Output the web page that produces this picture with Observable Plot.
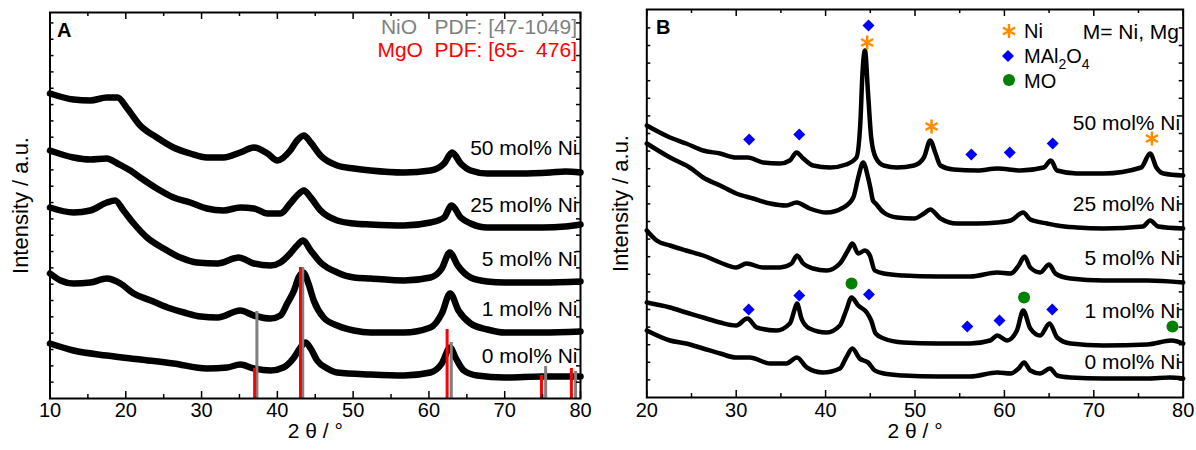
<!DOCTYPE html>
<html>
<head>
<meta charset="utf-8">
<script src="https://cdn.jsdelivr.net/npm/d3@7"></script>
<script src="https://cdn.jsdelivr.net/npm/@observablehq/plot@0.6"></script>
<style>
  body { margin: 0; background: white; }
  #wrap { position: relative; width: 1196px; height: 450px; font-family: "Liberation Sans", Arial, sans-serif; }
  #pa, #pb { position: absolute; top: 0; }
  #pa { left: 0; }
  #pb { left: 598px; }
  #ov { position: absolute; left: 0; top: 0; pointer-events: none; }
</style>
</head>
<body>
<div id="wrap">
  <div id="pa"></div>
  <div id="pb"></div>
  <svg id="ov" width="1196" height="450"></svg>
</div>
<script>
// ---------------- DATA (2θ in °, intensity in a.u.) ----------------
// Panel A
const seriesA = ["50 mol% Ni", "25 mol% Ni", "5 mol% Ni", "1 mol% Ni", "0 mol% Ni"];
const A50 = [[10,305],[13.1,299],[15.3,298],[17.5,301],[18.9,301],[20.2,290],[21.9,273],[24.1,261],[26.3,251],[28.5,245],[30.7,241],[32.9,241],[35.1,246],[36.9,251],[38.7,245],[40.0,238],[41.7,248],[42.6,258],[43.5,263],[44.4,256],[45.7,243],[47.9,233],[50.1,230],[52.3,228],[56.7,226],[60.2,228],[62.0,235],[63.06,246],[64.2,235],[65.5,228],[67.7,225],[72,225],[76,226],[78,227],[80,226]];
const A25 = [[10,248],[13.1,241],[15.3,239],[17.5,240],[18.9,235],[20.6,228],[21.9,221],[24.1,210],[26.3,201],[28.5,196],[30.7,190],[32.9,188],[35.1,191],[36.9,190],[38.7,185],[40.4,185],[41.7,195],[42.6,203],[43.5,208],[44.4,201],[45.7,188],[47.9,178],[50.1,175],[52.3,174],[56.7,173],[60.2,176],[62.0,181],[63.0,193],[64.2,181],[65.5,175],[67.7,171],[70,171],[75,171],[78,172],[80,174]];
const A5 = [[10,191],[13.1,186],[15.3,188],[17.5,196],[18.6,198],[19.7,188],[21.05,175],[22.8,161],[25.0,150],[27.2,141],[29.4,136],[32.1,135],[34.9,141],[36.9,135],[39.1,133],[40.4,136],[41.7,145],[42.6,153],[43.4,158],[44.4,148],[45.7,136],[47.9,126],[50.1,121],[52.3,120],[56.7,118],[60.2,121],[61.7,130],[62.75,146],[63.8,133],[65.5,121],[67.7,117],[70,116],[75,116],[80,117]];
const A1 = [[10,125],[11.4,118],[13.1,115],[15.3,116],[17.5,120],[19.3,115],[21.05,105],[23.3,98],[25.5,91],[27.7,86],[29.9,82],[32.1,81],[35.1,88],[36.9,83],[39.1,80],[40.4,83],[41.3,95],[42.2,108],[42.8,121],[43.4,126],[44.1,115],[44.8,98],[46.1,81],[47.9,73],[50.1,68],[52.3,66],[56.7,66],[60.2,71],[61.7,85],[62.8,105],[63.9,88],[65.5,75],[67.7,69],[70,66],[75,66],[80,67]];
const A0 = [[10,55],[13.1,48],[17.5,43],[21.9,39],[26.3,35],[30.7,30],[33.4,31],[35.1,34],[36.9,30],[39.1,28],[40.8,31],[42.2,41],[43.05,51],[43.7,56],[44.4,50],[45.25,38],[46.6,30],[47.9,26],[52.3,24],[56.7,23],[60.2,26],[61.7,35],[62.8,51],[63.5,41],[64.6,28],[66.35,23],[70,21],[75,22],[80,22]];
const curvesA = [A50, A25, A5, A1, A0];
const labelYA = [250, 193, 139, 89, 42];

// Reference patterns (PDF cards)
const nioPos = [37.3, 43.35, 62.95, 75.4, 79.35];
const nioInt = [87, 131, 56, 32, 27];
const mgoPos = [37.0, 43.05, 62.4, 74.85, 78.8];
const mgoInt = [30, 131, 69, 23, 30];

// Panel B
const seriesB = ["50 mol% Ni", "25 mol% Ni", "5 mol% Ni", "1 mol% Ni", "0 mol% Ni"];
const B50 = [[20,272],[22.6,260],[24.4,254],[26.3,247],[28.2,244],[30.0,240],[31.3,240],[33.0,235],[34.9,234],[36.0,237],[36.75,245],[37.5,239],[38.6,232],[40.5,230],[42.3,233],[43.45,240],[43.9,277],[44.1,320],[44.4,347],[44.75,304],[45.1,260],[45.6,240],[46.5,232],[48.0,230],[49.9,232],[51.0,240],[51.7,257],[52.3,244],[52.85,232],[54.3,228],[57.0,227],[59.2,229],[61.8,227],[64.4,230],[65.2,237],[65.9,227],[68.1,224],[71.1,224],[75.3,230],[76.3,244],[77.0,230],[77.8,224],[80,222]];
const B25 = [[20,254],[22.6,240],[24.8,230],[26.3,220],[28.2,212],[30.0,204],[31.9,199],[33.8,194],[35.6,192],[36.75,195],[38.2,189],[40.1,185],[42.0,190],[43.1,200],[43.65,220],[44.2,235],[44.75,220],[45.0,210],[45.3,197],[45.6,194],[46.5,185],[48.0,180],[49.9,179],[51.0,184],[51.7,188],[52.85,179],[54.7,174],[57.0,174],[59.2,175],[60.7,177],[62.1,185],[62.9,178],[64.8,174],[65.9,172],[68.1,170],[71.1,169],[75.5,171],[76.3,177],[77.2,171],[80,169]];
const B5 = [[20,167],[21.1,157],[22.6,152],[24.4,147],[26.3,142],[28.2,135],[30.0,130],[31.15,134],[33.0,130],[34.9,130],[36.2,134],[36.8,142],[37.5,134],[38.6,129],[40.1,127],[41.6,134],[42.5,147],[43.0,154],[43.65,144],[44.4,147],[44.95,142],[45.5,127],[46.5,124],[48.7,122],[52.5,121],[56.2,121],[59.2,125],[60.7,124],[61.6,132],[62.25,141],[62.9,130],[64.0,125],[65.0,133],[65.7,124],[67.4,119],[71.1,117],[76,117],[80,115]];
const B1 = [[20,95],[22.6,90],[24.4,85],[26.3,80],[28.2,75],[30.0,72],[31.25,79],[32.3,70],[34.5,67],[36.0,74],[36.5,87],[36.8,94],[37.3,79],[38.2,69],[40.1,65],[41.6,72],[42.3,87],[42.9,100],[43.65,92],[44.6,85],[45.1,77],[45.6,64],[46.5,59],[48.7,55],[52.5,54],[56.2,54],[58.4,57],[59.2,62],[60.3,57],[61.4,67],[62.1,87],[62.9,69],[64.0,62],[65.05,74],[65.9,60],[67.4,54],[71.1,52],[76,53],[78.7,57],[80,54]];
const B0 = [[20,67],[22.6,57],[24.4,54],[26.3,49],[28.2,44],[30.0,40],[31.5,40],[33.8,34],[35.6,34],[36.8,40],[37.9,30],[39.7,25],[41.6,29],[42.3,40],[43.0,49],[43.8,39],[44.75,35],[45.5,27],[46.5,24],[48.7,22],[52.5,21],[56.2,21],[59.2,25],[60.7,24],[61.6,29],[62.2,35],[62.9,27],[64.0,24],[65.1,29],[65.9,22],[67.4,20],[71.1,19],[76,19],[78.5,20],[80,19]];
const curvesB = [B50, B25, B5, B1, B0];
const labelYB = [274, 193, 139, 86, 35];

// Phase markers in panel B
const niStarX = [44.65, 51.85, 76.5];
const niStarY = [355, 271, 259];
const spinelX = [31.45, 37.05, 44.8, 56.3, 60.6, 65.4, 31.4, 37.05, 44.85, 55.85, 59.45, 65.35];
const spinelY = [258, 263, 372, 243, 245, 254, 88, 102, 103, 71, 77, 88];
const moX = [42.9, 62.2, 78.8];
const moY = [114, 100, 71];

// Axis tick values
const xMajorA = [10, 20, 30, 40, 50, 60, 70, 80];
const xMinorA = [15, 25, 35, 45, 55, 65, 75];
const xMajorB = [20, 30, 40, 50, 60, 70, 80];
const xMinorB = [25, 35, 45, 55, 65, 75];

// ---------------- BUILD ----------------
const FONT = "Liberation Sans, Arial, Helvetica, sans-serif";
const toRows = (curves, names) => curves.flatMap((c, i) => c.map(([x, y]) => ({x, y, s: names[i]})));
const zip = (xs, ys) => xs.map((x, i) => ({x, y: ys[i]}));

function frameTicks(xMajor, xMinor, x0, x1, h, yStep, pxPerX) {
  const yt = d3.range(yStep, h - 1, yStep);
  const lx = 4 / pxPerX;
  return [
    Plot.ruleX(xMajor, {y1: 0, y2: 7, stroke: "black", strokeWidth: 1.5}),
    Plot.ruleX(xMinor, {y1: 0, y2: 4, stroke: "black", strokeWidth: 1.5}),
    Plot.ruleX(xMajor, {y1: h - 7, y2: h, stroke: "black", strokeWidth: 1.5}),
    Plot.ruleX(xMinor, {y1: h - 4, y2: h, stroke: "black", strokeWidth: 1.5}),
    Plot.ruleY(yt, {x1: x0, x2: x0 + lx, stroke: "black", strokeWidth: 1.5}),
    Plot.ruleY(yt, {x1: x1 - lx, x2: x1, stroke: "black", strokeWidth: 1.5})
  ];
}

// Panel A
{
  const mL = 49.5, mR = 18, mT = 12, mB = 52, W = 598, Hh = 450;
  const h = Hh - mT - mB;
  const px = (W - mL - mR) / 70;
  const rows = toRows(curvesA, seriesA);
  const labels = seriesA.map((s, i) => ({s, y: labelYA[i]}));
  const plot = Plot.plot({
    width: W, height: Hh, marginLeft: mL, marginRight: mR, marginTop: mT, marginBottom: mB,
    x: {domain: [10, 80], axis: null},
    y: {domain: [0, h], axis: null},
    style: {fontFamily: FONT, fontSize: "20px", color: "black", background: "transparent", overflow: "visible"},
    marks: [
      Plot.line(rows, {x: "x", y: "y", z: "s", stroke: "black", strokeWidth: 6.5, curve: "monotone-x", strokeLinejoin: "round"}),
      Plot.ruleX(zip(nioPos, nioInt), {x: "x", y1: 0, y2: "y", stroke: "#808080", strokeWidth: 3}),
      Plot.ruleX(zip(mgoPos, mgoInt), {x: "x", y1: 0, y2: "y", stroke: "#ff0000", strokeWidth: 3}),
      Plot.frame({stroke: "black", strokeWidth: 2}),
      ...frameTicks(xMajorA, xMinorA, 10, 80, h, 16.33, px),
      Plot.text(xMajorA, {x: d => d, text: d => String(d), frameAnchor: "bottom", dy: 18.5, fontSize: 20}),
      Plot.text(["2 \u03b8 / \u00b0"], {text: d => d, frameAnchor: "bottom", dy: 39, fontSize: 21}),
      Plot.text(["Intensity / a.u."], {text: d => d, frameAnchor: "left", textAnchor: "middle", rotate: -90, dx: -29, fontSize: 22}),
      Plot.text(labels, {y: "y", text: "s", frameAnchor: "right", textAnchor: "end", dx: -3, fontSize: 21})
    ]
  });
  document.getElementById("pa").appendChild(plot);
}

// Panel B
{
  const mL = 48.3, mR = 13.3, mT = 9, mB = 53, W = 598, Hh = 450;
  const h = Hh - mT - mB;
  const px = (W - mL - mR) / 60;
  const rows = toRows(curvesB, seriesB);
  const labels = seriesB.map((s, i) => ({s, y: labelYB[i]}));
  const plot = Plot.plot({
    width: W, height: Hh, marginLeft: mL, marginRight: mR, marginTop: mT, marginBottom: mB,
    x: {domain: [20, 80], axis: null},
    y: {domain: [0, h], axis: null},
    style: {fontFamily: FONT, fontSize: "20px", color: "black", background: "transparent", overflow: "visible"},
    marks: [
      Plot.line(rows, {x: "x", y: "y", z: "s", stroke: "black", strokeWidth: 4.5, curve: "monotone-x", strokeLinejoin: "round"}),
      Plot.dot(zip(spinelX, spinelY), {x: "x", y: "y", symbol: "diamond2", r: 5.4, fill: "#0000ff", stroke: "none"}),
      Plot.dot(zip(moX, moY), {x: "x", y: "y", symbol: "circle", r: 6, fill: "#008000", stroke: "none"}),
      Plot.dot(zip(niStarX, niStarY), {x: "x", y: "y", symbol: "asterisk", r: 6.6, stroke: "#ff8c00", strokeWidth: 2.5}),
      Plot.frame({stroke: "black", strokeWidth: 2}),
      ...frameTicks(xMajorB, xMinorB, 20, 80, h, 17.6, px),
      Plot.text(xMajorB, {x: d => d, text: d => String(d), frameAnchor: "bottom", dy: 19, fontSize: 20}),
      Plot.text(["2 \u03b8 / \u00b0"], {text: d => d, frameAnchor: "bottom", dy: 40, fontSize: 21}),
      Plot.text(["Intensity / a.u."], {text: d => d, frameAnchor: "left", textAnchor: "middle", rotate: -90, dx: -26, fontSize: 22}),
      Plot.text(labels, {y: "y", text: "s", frameAnchor: "right", textAnchor: "end", dx: -3, fontSize: 21})
    ]
  });
  document.getElementById("pb").appendChild(plot);
}

// Overlay annotations: panel letters, PDF references, legend
{
  const ov = d3.select("#ov").style("font-family", FONT);
  ov.append("text").attr("x", 57).attr("y", 37).attr("font-size", 20).attr("font-weight", "bold").text("A");
  ov.append("text").attr("x", 656).attr("y", 34).attr("font-size", 20).attr("font-weight", "bold").text("B");
  ov.append("text").attr("x", 577).attr("y", 34).attr("font-size", 21).attr("text-anchor", "end")
    .attr("fill", "#808080").attr("xml:space", "preserve").style("white-space", "pre").text("NiO   PDF: [47-1049]");
  ov.append("text").attr("x", 577).attr("y", 57).attr("font-size", 21).attr("text-anchor", "end")
    .attr("fill", "#ff0000").attr("xml:space", "preserve").style("white-space", "pre").text("MgO  PDF: [65-  476]");
  // legend
  const sym = (type, size) => d3.symbol().type(type).size(size)();
  ov.append("path").attr("d", sym(d3.symbolAsterisk, 139)).attr("transform", "translate(1009,31)")
    .attr("fill", "none").attr("stroke", "#ff8c00").attr("stroke-width", 2.5);
  ov.append("path").attr("d", sym(d3.symbolDiamond2, 92)).attr("transform", "translate(1008,56)").attr("fill", "#0000ff");
  ov.append("circle").attr("cx", 1009).attr("cy", 80).attr("r", 6).attr("fill", "#008000");
  ov.append("text").attr("x", 1024).attr("y", 38).attr("font-size", 20).text("Ni");
  const t = ov.append("text").attr("x", 1024).attr("y", 63).attr("font-size", 20);
  t.append("tspan").text("MAl");
  t.append("tspan").attr("dy", 6).attr("font-size", 14).text("2");
  t.append("tspan").attr("dy", -6).text("O");
  t.append("tspan").attr("dy", 6).attr("font-size", 14).text("4");
  ov.append("text").attr("x", 1024).attr("y", 88).attr("font-size", 20).text("MO");
  ov.append("text").attr("x", 1179).attr("y", 39).attr("font-size", 21).attr("text-anchor", "end").text("M= Ni, Mg");
}
</script>
</body>
</html>
